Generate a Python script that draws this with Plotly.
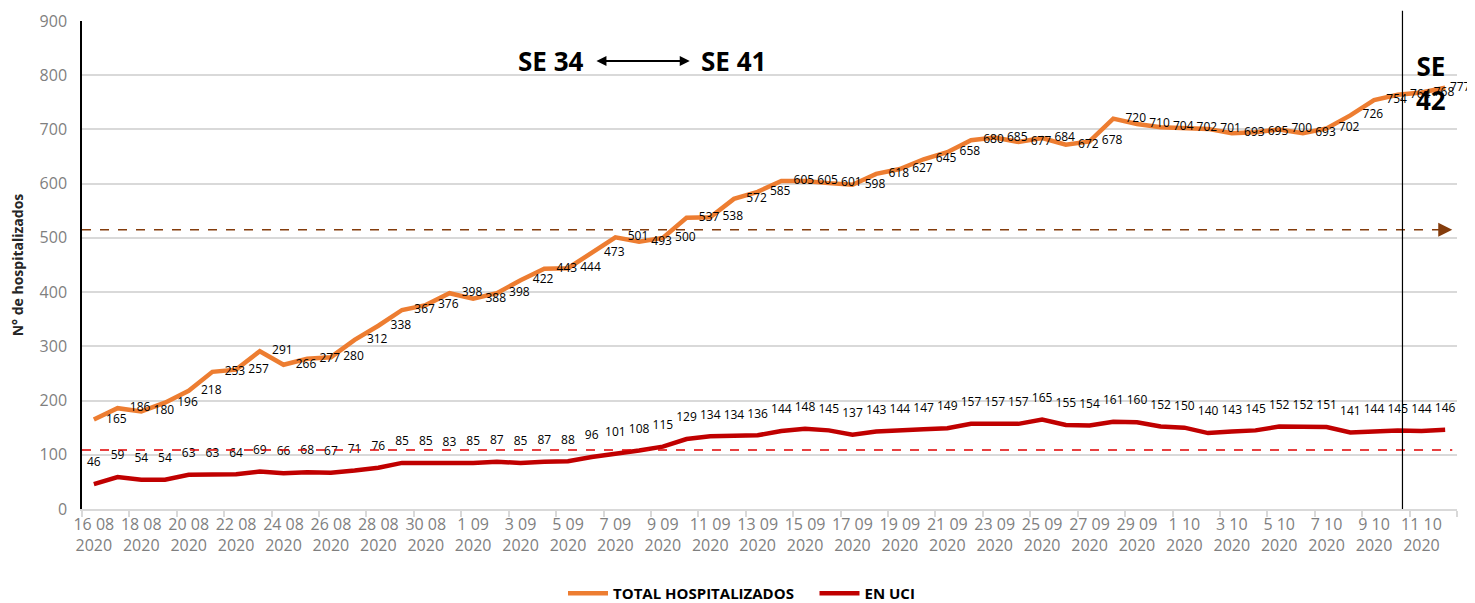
import pandas as pd
import plotly.graph_objects as go

# daily series, 16-08-2020 .. 12-10-2020
dates = pd.date_range("2020-08-16", periods=58, freq="D")
day_labels = [f"{d.day} {d.month:02d}<br>{d.year}" for d in dates]

total_hosp = [165, 186, 180, 196, 218, 253, 257, 291, 266, 277, 280, 312, 338, 367, 376,
              398, 388, 398, 422, 443, 444, 473, 501, 493, 500, 537, 538, 572, 585, 605,
              605, 601, 598, 618, 627, 645, 658, 680, 685, 677, 684, 672, 678, 720, 710,
              704, 702, 701, 693, 695, 700, 693, 702, 726, 754, 764, 768, 777]

en_uci = [46, 59, 54, 54, 63, 63, 64, 69, 66, 68, 67, 71, 76, 85, 85, 83, 85, 87, 85,
          87, 88, 96, 101, 108, 115, 129, 134, 134, 136, 144, 148, 145, 137, 143, 144,
          147, 149, 157, 157, 157, 165, 155, 154, 161, 160, 152, 150, 140, 143, 145, 152,
          152, 151, 141, 144, 145, 144, 146]

# reference levels (dashed arrows)
ref_total = 515
ref_uci = 109

x = list(range(len(dates)))
ORANGE = "#ED7D31"
RED = "#C00000"
FONT = "Open Sans"
CLEAR = "rgba(0,0,0,0)"
NBSP = "\u00a0"

# invisible markers only push the labels away from the line;
# the last one is smaller so its label stays inside the page
label_pad = [18] * (len(x) - 1) + [6]

fig = go.Figure()
fig.add_trace(go.Scatter(
    x=x, y=total_hosp, name="TOTAL HOSPITALIZADOS" + NBSP * 4,
    mode="lines+markers+text", text=[str(v) for v in total_hosp],
    textposition="middle right",
    textfont=dict(family=FONT, size=12, color="black"),
    line=dict(color=ORANGE, width=4.5),
    marker=dict(size=label_pad, color=CLEAR, line=dict(width=0, color=CLEAR)),
    cliponaxis=False,
))
fig.add_trace(go.Scatter(
    x=x, y=en_uci, name="EN UCI",
    mode="lines+markers+text", text=[str(v) for v in en_uci],
    textposition="top center",
    textfont=dict(family=FONT, size=12, color="black"),
    line=dict(color=RED, width=4.5),
    marker=dict(size=22, color=CLEAR, line=dict(width=0, color=CLEAR)),
    cliponaxis=False,
))

# dashed reference lines with arrow heads
for val, col, xend in [(ref_total, "#843C0C", 57.3), (ref_uci, "#E00000", 57.6)]:
    fig.add_shape(type="line", x0=-0.5, x1=xend - 0.3, y0=val, y1=val,
                  line=dict(color=col, width=1.5, dash="dash"), layer="above")
    fig.add_annotation(x=xend, y=val, ax=-12, ay=0, axref="pixel", ayref="pixel",
                       showarrow=True, arrowhead=2, arrowsize=1.4, arrowwidth=2,
                       arrowcolor=col, text="")

# vertical week marker
fig.add_shape(type="line", x0=55.2, x1=55.2, y0=0, y1=1.021, yref="paper",
              line=dict(color="black", width=1.2))

fig.add_annotation(x=21.2, y=826, ax=25.2, ay=826, axref="x", ayref="y",
                   showarrow=True, arrowhead=2, startarrowhead=2, arrowside="end+start",
                   arrowsize=1, arrowwidth=2, arrowcolor="black", text="")
fig.add_annotation(x=19.3, y=826, text="<b>SE 34</b>", showarrow=False,
                   font=dict(family=FONT, size=26, color="black"))
fig.add_annotation(x=27.0, y=826, text="<b>SE 41</b>", showarrow=False,
                   font=dict(family=FONT, size=26, color="black"))
fig.add_annotation(x=56.4, y=786, text="<b>SE<br>42</b>", showarrow=False,
                   font=dict(family=FONT, size=26, color="black"))

fig.update_xaxes(
    range=[-0.5, 57.5], tickmode="array", tickvals=x[::2], ticktext=day_labels[::2],
    ticks="", showgrid=False, zeroline=False, automargin=False,
    showline=True, linecolor="#d9d9d9", linewidth=1.5,
    tickfont=dict(family=FONT, size=16, color="#7f7f7f"),
    minor=dict(tickvals=[v - 0.5 for v in x[::2]] + [57.5], ticks="outside",
               ticklen=6, tickcolor="#d9d9d9", tickwidth=1.5, showgrid=False),
)
fig.update_yaxes(
    range=[0, 900], dtick=100, showgrid=True, gridcolor="#d9d9d9", gridwidth=1.5,
    zeroline=False, showline=True, linecolor="black", linewidth=1.5, automargin=False,
    tickfont=dict(family=FONT, size=16, color="#7f7f7f"), ticklabelstandoff=10,
    title=dict(text="<b>N° de hospitalizados</b>", standoff=14,
               font=dict(family=FONT, size=14, color="#262626")),
)

# page body adds an 8px offset, so the figure is sized 8px smaller
fig.update_layout(
    width=1467, height=595,
    margin=dict(l=74, r=18, t=13, b=94),
    plot_bgcolor="white", paper_bgcolor="white",
    showlegend=True,
    legend=dict(orientation="h", x=0.5, xanchor="center", xref="container",
                y=0.016, yanchor="middle", yref="container",
                font=dict(family=FONT, size=15, color="black", weight="bold"),
                itemwidth=40, tracegroupgap=0),
)

fig.write_html("out.html")
